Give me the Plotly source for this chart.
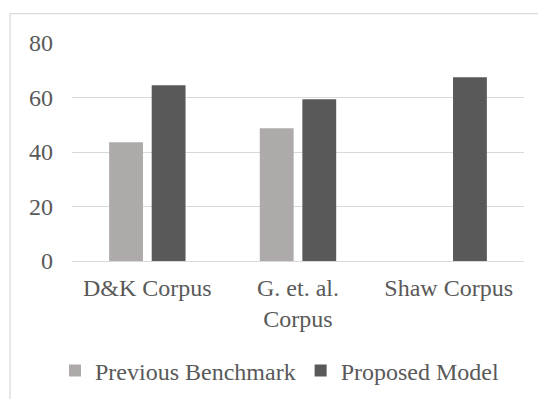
import plotly.graph_objects as go

# Corpus names shown on the category axis
categories = ["D&K Corpus", "G. et. al.<br>Corpus", "Shaw Corpus"]

# Scores per corpus
previous_benchmark = [43.6, 48.7, 0]
proposed_model = [64.5, 59.4, 67.4]

y_ticks = [0, 20, 40, 60, 80]

TEXT = "#595959"
GRID = "#D9D9D9"
FONT = "Liberation Serif, Times New Roman, serif"

fig = go.Figure()
fig.add_trace(go.Bar(
    name="Previous Benchmark",
    x=categories,
    y=previous_benchmark,
    marker=dict(color="#AEAAAA", line=dict(width=0)),
))
fig.add_trace(go.Bar(
    name="Proposed Model",
    x=categories,
    y=proposed_model,
    marker=dict(color="#595959", line=dict(width=0)),
))

# Light frame around the chart area
fig.add_shape(
    type="rect", xref="paper", yref="paper",
    x0=-0.137, x1=1.2, y0=-0.8, y1=1.135,
    line=dict(color=GRID, width=1.2), fillcolor="rgba(0,0,0,0)", layer="below",
)

fig.update_layout(
    width=538, height=399,
    margin=dict(l=72, r=14, t=43, b=138, autoexpand=False),
    paper_bgcolor="white", plot_bgcolor="white",
    barmode="group", bargap=0.435, bargroupgap=0.205,
    font=dict(family=FONT, size=24, color=TEXT),
    showlegend=True,
    legend=dict(
        orientation="h", xanchor="left", yanchor="middle",
        xref="container", yref="container",
        x=(55 / 538), y=(399 - 371) / 399,
        font=dict(family=FONT, size=24, color=TEXT),
        bgcolor="rgba(0,0,0,0)", itemclick=False,
    ),
)
fig.update_xaxes(
    showgrid=False, showline=False, zeroline=False, ticks="",
    automargin=False, ticklabelstandoff=10,
    tickfont=dict(family=FONT, size=24, color=TEXT),
)
fig.update_yaxes(
    range=[0, 80], tickvals=y_ticks, ticktext=[str(v) for v in y_ticks],
    showgrid=True, gridcolor=GRID, gridwidth=1.3,
    zeroline=True, zerolinecolor=GRID, zerolinewidth=1.3,
    showline=False, ticks="", ticklabelstandoff=18, automargin=False,
    tickfont=dict(family=FONT, size=24, color=TEXT),
)

fig.write_html("out.html")
